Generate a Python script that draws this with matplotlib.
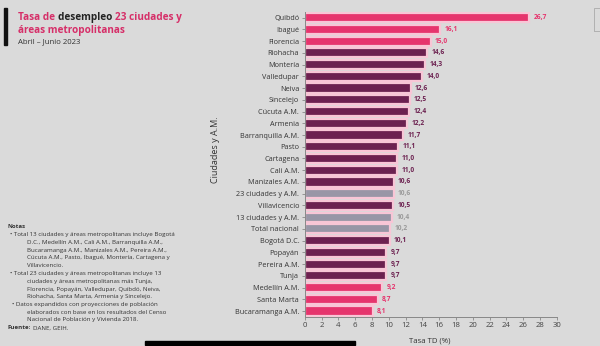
import matplotlib
matplotlib.use("Agg")
import matplotlib.pyplot as plt
from matplotlib.patches import Rectangle

plt.rcParams['font.family'] = ['Open Sans', 'DejaVu Sans']

categories = ["Quibdó", "Ibagué", "Florencia", "Riohacha", "Montería", "Valledupar",
              "Neiva", "Sincelejo", "Cúcuta A.M.", "Armenia", "Barranquilla A.M.", "Pasto",
              "Cartagena", "Cali A.M.", "Manizales A.M.", "23 ciudades y A.M.", "Villavicencio",
              "13 ciudades y A.M.", "Total nacional", "Bogotá D.C.", "Popayán", "Pereira A.M.",
              "Tunja", "Medellín A.M.", "Santa Marta", "Bucaramanga A.M."]
values = [26.7, 16.1, 15.0, 14.6, 14.3, 14.0, 12.6, 12.5, 12.4, 12.2, 11.7, 11.1,
          11.0, 11.0, 10.6, 10.6, 10.5, 10.4, 10.2, 10.1, 9.7, 9.7, 9.7, 9.2, 8.7, 8.1]
groups = ["high", "high", "high", "mid", "mid", "mid", "mid", "mid", "mid", "mid", "mid", "mid",
          "mid", "mid", "mid", "agg", "mid", "agg", "agg", "mid", "mid", "mid", "mid",
          "low", "low", "low"]
xticks = list(range(0, 31, 2))

PINK = "#e6346d"
MAROON = "#6c2150"
GRAY = "#9896a6"
EDGE = "#f8c6d6"
BG = "#dadada"
color_map = {"high": PINK, "low": PINK, "mid": MAROON, "agg": GRAY}
label_map = {"high": PINK, "low": PINK, "mid": MAROON, "agg": "#9a9a9a"}

fig = plt.figure(figsize=(6.0, 3.46), dpi=100, facecolor=BG)
ax = fig.add_axes([0.508, 0.084, 0.42, 0.882])
ax.set_facecolor(BG)

y = list(range(len(categories)))
cols = [color_map[g] for g in groups]
ax.barh(y, values, height=0.78, color=cols, edgecolor=EDGE, linewidth=1.6)
for yi, v, g in zip(y, values, groups):
    ax.text(v + 0.5, yi, f"{v:.1f}".replace(".", ","), va="center", ha="left",
            fontsize=4.8, fontweight="bold", color=label_map[g])

ax.set_ylim(len(categories) - 0.5, -0.5)
ax.set_xlim(0, 30)
ax.set_yticks(y)
ax.set_yticklabels(categories, fontsize=5.2, color="#333333")
ax.set_xticks(xticks)
ax.set_xticklabels([str(t) for t in xticks], fontsize=5.6, color="#444444")
ax.tick_params(axis="both", length=2, width=0.6, color="#888888", pad=2)
for s in ["top", "right"]:
    ax.spines[s].set_visible(False)
for s in ["left", "bottom"]:
    ax.spines[s].set_color("#888888")
    ax.spines[s].set_linewidth(0.7)

fig.text(430 / 600, 1 - 341 / 346, "Tasa TD (%)", fontsize=5.6, color="#333333",
         ha="center", va="center")
fig.text(215 / 600, 1 - 150 / 346, "Ciudades y A.M.", fontsize=6.5, color="#333333",
         rotation=90, ha="center", va="center")

# Title block
fig.patches.append(Rectangle((4 / 600, 1 - 45 / 346), 2.5 / 600, 37 / 346,
                             transform=fig.transFigure, color="#111111"))
TS = 7.2
t1 = fig.text(18 / 600, 1 - 20 / 346, "Tasa de ", fontsize=TS, fontweight="bold",
              color="#d62e68", va="baseline")
t2 = fig.text(0, 0, "desempleo ", fontsize=TS, fontweight="bold", color="#222222",
              va="baseline")
t3 = fig.text(0, 0, "23 ciudades y", fontsize=TS, fontweight="bold", color="#d62e68",
              va="baseline")
fig.canvas.draw()
r = fig.canvas.get_renderer()
inv = fig.transFigure.inverted()
bb = t1.get_window_extent(r)
x2 = inv.transform((bb.x1, 0))[0]
t2.set_position((x2, 1 - 20 / 346))
bb = t2.get_window_extent(r)
x3 = inv.transform((bb.x1, 0))[0]
t3.set_position((x3, 1 - 20 / 346))
fig.text(18 / 600, 1 - 32.5 / 346, "áreas metropolitanas", fontsize=TS, fontweight="bold",
         color="#d62e68", va="baseline")
fig.text(18 / 600, 1 - 43.5 / 346, "Abril – Junio 2023", fontsize=5.6, color="#333333",
         va="baseline")

# Notes
NS = 4.4
lines = [
    (8, "Notas", True),
    (10, "• Total 13 ciudades y áreas metropolitanas incluye Bogotá", False),
    (27, "D.C., Medellín A.M., Cali A.M., Barranquilla A.M.,", False),
    (27, "Bucaramanga A.M., Manizales A.M., Pereira A.M.,", False),
    (27, "Cúcuta A.M., Pasto, Ibagué, Montería, Cartagena y", False),
    (27, "Villavicencio.", False),
    (10, "• Total 23 ciudades y áreas metropolitanas incluye 13", False),
    (27, "ciudades y áreas metropolitanas más Tunja,", False),
    (27, "Florencia, Popayán, Valledupar, Quibdó, Neiva,", False),
    (27, "Riohacha, Santa Marta, Armenia y Sincelejo.", False),
    (12, "• Datos expandidos con proyecciones de población", False),
    (27, "elaborados con base en los resultados del Censo", False),
    (27, "Nacional de Población y Vivienda 2018.", False),
]
yy = 227
for xpx, txt, bold in lines:
    fig.text(xpx / 600, 1 - yy / 346, txt, fontsize=NS, color="#333333",
             fontweight="bold" if bold else "normal", va="center", ha="left")
    yy += 7.75
tf = fig.text(8 / 600, 1 - yy / 346, "Fuente:", fontsize=NS, color="#333333",
              fontweight="bold", va="center", ha="left")
fig.canvas.draw()
bb = tf.get_window_extent(fig.canvas.get_renderer())
fig.text(inv.transform((bb.x1, 0))[0] + 2 / 600, 1 - yy / 346, "DANE, GEIH.", fontsize=NS,
         color="#333333", va="center", ha="left")

# screenshot artifacts
fig.patches.append(Rectangle((145 / 600, 1 - 345 / 346), 210 / 600, 4 / 346,
                             transform=fig.transFigure, color="#000000"))
fig.patches.append(Rectangle((594 / 600, 1 - 31 / 346), 8 / 600, 23 / 346,
                             transform=fig.transFigure, fill=False, edgecolor="#aaaaaa",
                             linewidth=0.6))

fig.savefig("out.png", dpi=100, facecolor=BG)
